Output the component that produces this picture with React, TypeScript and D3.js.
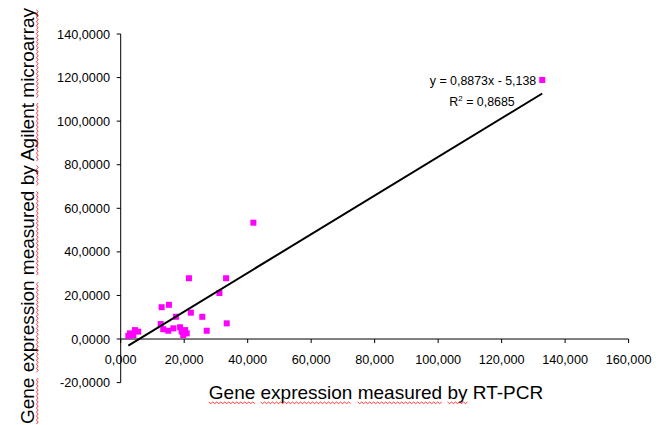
import React, { useLayoutEffect, useRef, useState } from "react";
import * as d3 from "d3";

const W = 665;
const H = 425;

// RT-PCR (x) vs Agilent microarray (y)
const pcrValues = [
  2.4, 2.9, 4.0, 4.5, 5.5,
  12.6, 12.9, 13.4, 15.0, 15.2, 16.6, 17.4, 18.7, 19.2, 19.7, 20.3, 20.8,
  21.5, 22.1, 25.7, 27.1, 31.1, 33.2, 33.4, 41.8, 132.8,
];
const arrayValues = [
  1.4, 2.6, 1.8, 4.1, 3.4,
  6.9, 14.6, 4.5, 3.8, 15.7, 4.9, 10.2, 5.4, 3.4, 1.8, 4.1, 2.6,
  27.9, 12.1, 10.2, 3.8, 21.1, 27.9, 7.2, 53.4, 118.9,
];

const slope = 0.8873;
const intercept = -5.138;
const equationText = "y = 0,8873x - 5,138";
const r2Value = "0,8685";

const xTicks = [0, 20, 40, 60, 80, 100, 120, 140, 160];
const yTicks = [-20, 0, 20, 40, 60, 80, 100, 120, 140];

const xTitleWords = ["Gene", "expression", "measured", "by", "RT-PCR"];
const xTitleFlagged = [true, true, true, true, false];
const yTitleWords = ["Gene", "expression", "measured", "by", "Agilent", "microarray"];
const yTitleFlagged = [true, true, true, true, true, true];

const FONT = "'Liberation Sans', Arial, sans-serif";

function fmt(v: number, dec: number) {
  return v.toFixed(dec).replace(".", ",");
}

function wavyPath(x0: number, x1: number, yb: number) {
  const step = 2;
  let d = `M${x0},${yb}`;
  let k = 0;
  for (let xx = x0 + step; xx <= x1; xx += step) {
    k++;
    d += ` L${xx},${yb + (k % 2 === 1 ? 1.6 : 0)}`;
  }
  return d;
}

function SpellTitle({
  words,
  flagged,
  x,
  y,
  transform,
}: {
  words: string[];
  flagged: boolean[];
  x: number;
  y: number;
  transform?: string;
}) {
  const ref = useRef<SVGTextElement>(null);
  const [paths, setPaths] = useState<string[]>([]);
  const full = words.join(" ");
  useLayoutEffect(() => {
    const el = ref.current;
    if (!el) return;
    const res: string[] = [];
    let idx = 0;
    words.forEach((w, i) => {
      if (flagged[i]) {
        try {
          const s = el.getStartPositionOfChar(idx).x;
          const e = el.getEndPositionOfChar(idx + w.length - 1).x;
          res.push(wavyPath(s, e, y + 3));
        } catch (err) {
          /* ignore */
        }
      }
      idx += w.length + 1;
    });
    setPaths(res);
  }, [full]);
  return (
    <g transform={transform}>
      <text ref={ref} x={x} y={y} textAnchor="middle" fontSize={19} fill="#000">
        {full}
      </text>
      {paths.map((d, i) => (
        <path key={i} d={d} fill="none" stroke="#ff2020" strokeWidth={0.9} />
      ))}
    </g>
  );
}

export default function App() {
  const x = d3.scaleLinear().domain([0, 160]).range([120.7, 628.6]);
  const y = d3.scaleLinear().domain([-20, 140]).range([382.6, 34]);

  const xMin = d3.min(pcrValues) as number;
  const xMax = d3.max(pcrValues) as number;
  const line = d3
    .line<number>()
    .x((d) => x(d))
    .y((d) => y(slope * d + intercept));

  const pts = pcrValues.map((v, i) => ({ x: v, y: arrayValues[i] }));
  const ms = 6;

  return (
    <svg
      width={W}
      height={H}
      style={{ position: "absolute", left: 0, top: 0, background: "#fff" }}
      fontFamily={FONT}
    >
      <rect x={0} y={0} width={W} height={H} fill="#fff" />
      {/* y axis */}
      <line x1={x(0)} x2={x(0)} y1={y(-20)} y2={y(140)} stroke="#000" strokeWidth={1} />
      {yTicks.map((t) => (
        <g key={"y" + t}>
          <line x1={x(0) - 4} x2={x(0)} y1={y(t)} y2={y(t)} stroke="#000" />
          <text x={110} y={y(t) + 4.5} textAnchor="end" fontSize={12.7} fill="#000">
            {fmt(t, 4)}
          </text>
        </g>
      ))}
      {/* x axis */}
      <line x1={x(0)} x2={x(160)} y1={y(0)} y2={y(0)} stroke="#000" strokeWidth={1} />
      {xTicks.map((t) => (
        <g key={"x" + t}>
          <line x1={x(t)} x2={x(t)} y1={y(0)} y2={y(0) + 4} stroke="#000" />
          <text x={x(t)} y={364} textAnchor="middle" fontSize={12.7} fill="#000">
            {fmt(t, 3)}
          </text>
        </g>
      ))}
      {/* points */}
      {pts.map((p, i) => (
        <rect
          key={i}
          x={x(p.x) - ms / 2}
          y={y(p.y) - ms / 2}
          width={ms}
          height={ms}
          fill="#ff00ff"
        />
      ))}
      {/* trendline */}
      <path d={line([xMin, xMax]) || ""} stroke="#000" strokeWidth={2} fill="none" />
      {/* equation */}
      <text x={483} y={85} textAnchor="middle" fontSize={12.4} fill="#000">
        {equationText}
      </text>
      <text x={482} y={106} textAnchor="middle" fontSize={12.4} fill="#000">
        R<tspan dy={-5} fontSize={8}>2</tspan>
        <tspan dy={5}>{" = " + r2Value}</tspan>
      </text>
      {/* axis titles */}
      <SpellTitle words={xTitleWords} flagged={xTitleFlagged} x={376} y={399} />
      <SpellTitle
        words={yTitleWords}
        flagged={yTitleFlagged}
        x={0}
        y={0}
        transform="translate(33.5, 216) rotate(-90)"
      />
    </svg>
  );
}
